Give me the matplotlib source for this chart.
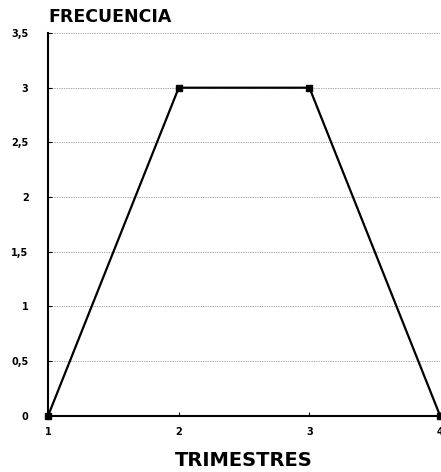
import matplotlib.pyplot as plt

trimestres = [1, 2, 3, 4]
frecuencia = [0, 3, 3, 0]
yticks = [0, 0.5, 1, 1.5, 2, 2.5, 3, 3.5]
ytick_labels = ["0", "0,5", "1", "1,5", "2", "2,5", "3", "3,5"]

fig = plt.figure(figsize=(4.41, 4.72), dpi=100)
ax = fig.add_axes([0.109, 0.119, 0.889, 0.811])

ax.plot(trimestres, frecuencia, color="black", linewidth=1.6,
        marker="s", markersize=4, clip_on=False, zorder=3)

ax.set_xlim(1, 4)
ax.set_ylim(0, 3.5)
ax.set_xticks(trimestres)
ax.set_xticklabels([str(t) for t in trimestres], fontweight="heavy", fontsize=7)
ax.set_yticks(yticks)
ax.set_yticklabels(ytick_labels, fontweight="heavy", fontsize=7)
ax.tick_params(axis="both", direction="in", length=3, width=0.8)
ax.tick_params(axis="y", pad=14)
ax.tick_params(axis="x", pad=8)

ax.yaxis.grid(True, linestyle=(0, (1, 1.5)), linewidth=0.5, color="#555555")
ax.set_axisbelow(True)

for side in ["top", "right"]:
    ax.spines[side].set_visible(False)
ax.spines["left"].set_linewidth(1.5)
ax.spines["bottom"].set_linewidth(1.5)

fig.text(0.109, 0.945, "FRECUENCIA", fontsize=12.5, fontweight="heavy",
         ha="left", va="bottom")
ax.set_xlabel("TRIMESTRES", fontsize=14, fontweight="heavy", labelpad=10)

fig.savefig("out.png", dpi=100)
